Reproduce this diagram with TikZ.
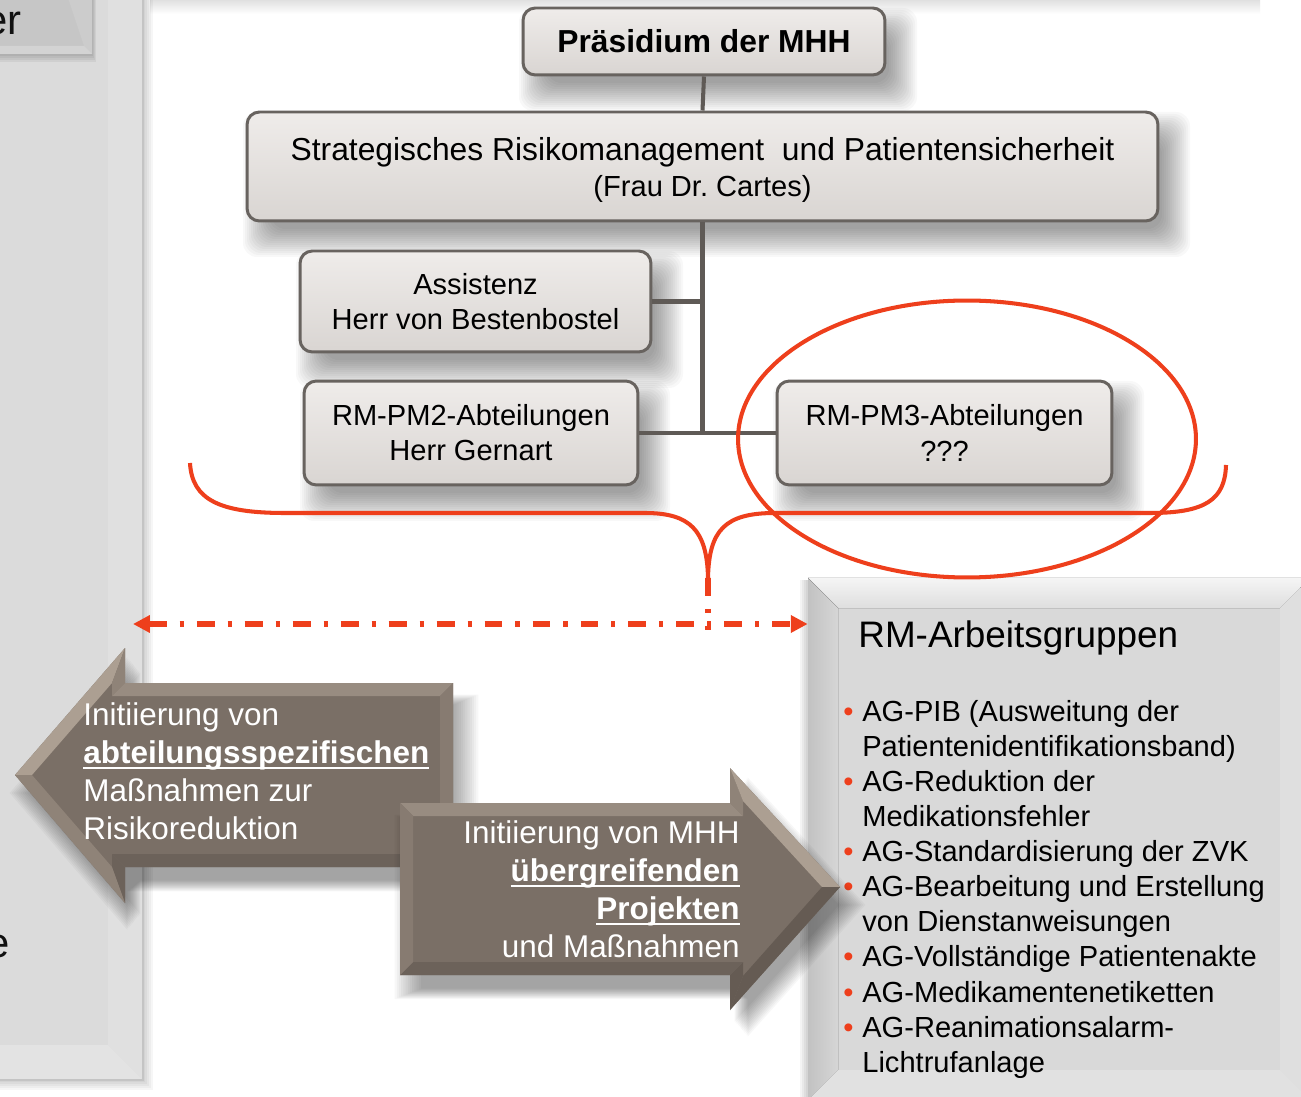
\documentclass[tikz,border=0pt]{standalone}
\usepackage{fontspec}
\setmainfont{Liberation Sans}
\usetikzlibrary{arrows.meta}

\definecolor{orgline}{HTML}{68635F}
\definecolor{orgtop}{HTML}{EFECEA}
\definecolor{orgbottom}{HTML}{D9D5D2}
\definecolor{trunk}{HTML}{5F5A56}
\definecolor{panelgray}{HTML}{DBDBDB}
\definecolor{panelright}{HTML}{E0E0E0}
\definecolor{panelbottom}{HTML}{E3E3E3}
\definecolor{paneledge}{HTML}{C4C4C4}
\definecolor{tabgray}{HTML}{C6C6C6}
\definecolor{tablight}{HTML}{CCCCCC}
\definecolor{tabedge}{HTML}{D3D3D3}
\definecolor{agfill}{HTML}{D9D9D9}
\definecolor{agtop}{HTML}{F5F5F5}
\definecolor{agtopin}{HTML}{DEDEDE}
\definecolor{agleft}{HTML}{C2C2C2}
\definecolor{agleftin}{HTML}{D6D6D6}
\definecolor{agright}{HTML}{DFDFDF}
\definecolor{agbottom}{HTML}{E1E1E1}
\definecolor{flowbrown}{HTML}{7A6F66}
\definecolor{bevhi}{HTML}{AC9F92}
\definecolor{bevtop}{HTML}{988C81}
\definecolor{bevmid}{HTML}{8F8378}
\definecolor{bevend}{HTML}{877B71}
\definecolor{bevlow}{HTML}{6C625A}
\definecolor{bevdark}{HTML}{655B53}
\definecolor{marker}{HTML}{EE3F1C}
\definecolor{sidetext}{HTML}{111111}

\newcommand{\orgfont}{\fontsize{16.55}{20}\selectfont}
\newcommand{\stratfont}{\fontsize{18.1}{20.4}\selectfont}
\newcommand{\presfont}{\fontsize{18.1}{21.7}\selectfont\bfseries}
\newcommand{\agheadfont}{\fontsize{21}{25}\selectfont}
\newcommand{\flowfont}{\fontsize{17.9}{21.7}\selectfont}
\newcommand{\sidefont}{\fontsize{23.8}{28}\selectfont}
\newcommand{\agbullet}{\makebox[10.8pt][l]{\textcolor{marker}{\textbullet}}}
\newcommand{\agindent}{\hspace*{10.8pt}}
\newcommand{\flowul}[1]{\setbox0=\hbox{\bfseries #1}\rlap{\rule[-3.4pt]{\wd0}{1.1pt}}\box0}
\newlength{\flowwidth}\setlength{\flowwidth}{7cm}
\newcommand{\rline}[1]{\hbox to \flowwidth{\hfill #1}}
% soft drop shadow for a box: corners of the shifted box, stacked translucent layers
\newcommand{\boxshade}[4]{%
  \foreach \k in {-10,-8,...,18}{%
    \fill[black, opacity=0.027, rounded corners=8pt] (#1-\k,#2-\k) rectangle (#3+\k,#4+\k);}}

\begin{document}
\frenchspacing
\begin{tikzpicture}[x=0.02cm,y=-0.02cm,
  orgbox/.style={rectangle, rounded corners=7pt, draw=orgline, line width=1.7pt,
    top color=orgtop, bottom color=orgbottom, inner sep=0pt, align=center,
    font=\orgfont, text=black},
  trunkline/.style={draw=trunk, line width=2.3pt},
  markline/.style={draw=marker, line width=2.3pt},
  flowmark/.style={draw=marker, line width=3.4pt,
    dash pattern=on 10.2pt off 7.4pt on 2.3pt off 7.4pt}
]
\useasboundingbox (0,0) rectangle (1301,1097);
\fill[white] (0,0) rectangle (1301,1097);

% faint shade along the top edge
\fill[top color=black!12, bottom color=white] (150,0) rectangle (1260,14);

% side panel on the left
\foreach \k in {1,...,5}{\fill[black, opacity=0.035] (-20,-20) rectangle (143+2*\k,1080+2*\k);}
\fill[panelgray] (-20,-20) rectangle (143,1080);
\fill[panelright] (143,-20) -- (143,1080) -- (108,1045) -- (108,-20) -- cycle;
\fill[panelbottom] (-20,1080) -- (143,1080) -- (108,1045) -- (-20,1045) -- cycle;
\draw[paneledge, line width=1pt] (143,-20) -- (143,1080) -- (-20,1080);

% tab in the upper left corner
\foreach \k in {1,...,4}{\fill[black, opacity=0.05] (-20,-20) rectangle (92+\k,54+2*\k);}
\fill[tabgray] (-20,-20) rectangle (92,54);
\fill[tablight] (62,-20) -- (92,-20) -- (92,54) -- (84,46) -- cycle;
\fill[tabedge] (-20,46) -- (84,46) -- (92,54) -- (-20,54) -- cycle;
\node[anchor=base east, inner sep=0pt, font=\sidefont, text=sidetext] (tabtext) at (22,35) {er};
\node[anchor=base east, inner sep=0pt, font=\sidefont, text=sidetext] (sidetext) at (10.5,957) {e};

% working groups box
\foreach \k in {1,...,4}{\fill[black, opacity=0.045] (808-2*\k,580) rectangle (1310,1100);}
\node[rectangle, fill=agfill, minimum width=10.04cm, minimum height=10.44cm, inner sep=0pt] (ag) at (1059,839) {};
\fill[top color=agtop, bottom color=agtopin] (808,578) -- (1310,578) -- (1280,608) -- (838,608) -- cycle;
\fill[left color=agleft, right color=agleftin] (808,578) -- (838,608) -- (838,1070) -- (808,1100) -- cycle;
\fill[agright] (1310,578) -- (1310,1100) -- (1280,1070) -- (1280,608) -- cycle;
\fill[agbottom] (808,1100) -- (838,1070) -- (1280,1070) -- (1310,1100) -- cycle;
\node[anchor=base west, inner sep=0pt, font=\agheadfont, text=black] (agtitle) at (858,647) {RM-Arbeitsgruppen};
\node[anchor=base west, inner sep=0pt, font=\orgfont, text=black] (aglist) at (843,721) {\vtop{%
  \hbox{\agbullet AG-PIB (Ausweitung der}
  \hbox{\agindent Patientenidentifikationsband)}
  \hbox{\agbullet AG-Reduktion der}
  \hbox{\agindent Medikationsfehler}
  \hbox{\agbullet AG-Standardisierung der ZVK}
  \hbox{\agbullet AG-Bearbeitung und Erstellung}
  \hbox{\agindent von Dienstanweisungen}
  \hbox{\agbullet AG-Vollständige Patientenakte}
  \hbox{\agbullet AG-Medikamentenetiketten}
  \hbox{\agbullet AG-Reanimationsalarm-}
  \hbox{\agindent Lichtrufanlage}}};

% organisation chart: shadows first, then boxes and connectors
\boxshade{537}{26}{899}{93}
\boxshade{261}{130}{1172}{239}
\boxshade{314}{269}{665}{370}
\boxshade{318}{399}{652}{503}
\boxshade{791}{399}{1126}{503}

\node[orgbox, minimum width=7.24cm, minimum height=1.34cm, font=\presfont] (pres) at (704,41.5) {Präsidium der MHH};
\node[orgbox, minimum width=18.22cm, minimum height=2.18cm, font=\stratfont] (strat) at (702.5,166.5) {\rule{0pt}{17.5pt}Strategisches Risikomanagement\ \ und Patientensicherheit\\{\orgfont (Frau Dr. Cartes)}};
\node[orgbox, minimum width=7.02cm, minimum height=2.02cm] (assist) at (475.5,301.5) {Assistenz\\Herr von Bestenbostel};
\node[orgbox, minimum width=6.68cm, minimum height=2.08cm] (pm2) at (471,433) {RM-PM2-Abteilungen\\Herr Gernart};
\node[orgbox, minimum width=6.70cm, minimum height=2.08cm] (pm3) at (944.5,433) {RM-PM3-Abteilungen\\???};

\draw[trunkline] (pres.south) -- (strat.north);
\draw[trunkline] (strat.south) -- (strat.south |- pm3.west) -- (pm3.west);
\draw[trunkline] (assist.east) -- (assist.east -| strat.south);
\draw[trunkline] (pm2.east) -- (pm2.east -| strat.south);

% left-pointing block arrow
\foreach \s in {0.95,0.96,...,1.075}{%
  \fill[black, opacity=0.03, shift={(10,18)}, scale around={\s:(234,775)}]
    (15,775) -- (125,648) -- (125,683) -- (453,683) -- (453,867) -- (125,867) -- (125,903) -- cycle;}
\fill[flowbrown] (15,775) -- (125,648) -- (125,683) -- (453,683) -- (453,867) -- (125,867) -- (125,903) -- cycle;
\fill[bevhi] (15,775) -- (125,648) -- (112,683) -- (32,775) -- cycle;
\fill[bevmid] (125,648) -- (125,683) -- (112,696) -- (112,683) -- cycle;
\fill[bevtop] (125,683) -- (453,683) -- (440,696) -- (112,696) -- cycle;
\fill[bevend] (453,683) -- (453,867) -- (440,854) -- (440,696) -- cycle;
\fill[bevlow] (453,867) -- (125,867) -- (112,854) -- (440,854) -- cycle;
\fill[bevlow] (125,867) -- (125,903) -- (112,867) -- (112,854) -- cycle;
\fill[bevmid] (125,903) -- (15,775) -- (32,775) -- (112,867) -- cycle;
\node[anchor=base west, inner sep=0pt, font=\flowfont, text=white] (lefttext) at (83,725) {\vtop{%
  \hbox{Initiierung von}
  \hbox{\flowul{abteilungsspezifischen}}
  \hbox{Maßnahmen zur}
  \hbox{Risikoreduktion}}};

% right-pointing block arrow
\foreach \s in {0.95,0.96,...,1.075}{%
  \fill[black, opacity=0.03, shift={(10,18)}, scale around={\s:(620,889)}]
    (400,803) -- (730,803) -- (730,768) -- (840,887) -- (730,1010) -- (730,975) -- (400,975) -- cycle;}
\fill[flowbrown] (400,803) -- (730,803) -- (730,768) -- (840,887) -- (730,1010) -- (730,975) -- (400,975) -- cycle;
\fill[bevtop] (400,803) -- (730,803) -- (743,816) -- (413,816) -- cycle;
\fill[bevmid] (730,803) -- (730,768) -- (743,801) -- (743,816) -- cycle;
\fill[bevhi] (730,768) -- (840,887) -- (822,887) -- (743,801) -- cycle;
\fill[bevdark] (840,887) -- (730,1010) -- (743,976) -- (822,887) -- cycle;
\fill[bevdark] (730,1010) -- (730,975) -- (743,962) -- (743,976) -- cycle;
\fill[bevlow] (730,975) -- (400,975) -- (413,962) -- (743,962) -- cycle;
\fill[bevend] (400,975) -- (400,803) -- (413,816) -- (413,962) -- cycle;
\node[anchor=base east, inner sep=0pt, font=\flowfont, text=white] (righttext) at (740,843) {\vtop{%
  \rline{Initiierung von MHH}
  \rline{\flowul{übergreifenden}}
  \rline{\flowul{Projekten}}
  \rline{und Maßnahmen}}};

% red markings
\draw[markline] (967,439) ellipse [x radius=4.58cm, y radius=2.77cm];
\coordinate (bracetip) at (708,578);
\draw[markline] (190,463) .. controls (192,500) and (220,513) .. (285,513) -- (645,513)
  .. controls (690,513) and (707,530) .. (bracetip);
\draw[markline] (bracetip) .. controls (709,530) and (725,513) .. (775,513) -- (1150,513)
  .. controls (1205,513) and (1225,500) .. (1226,465);
\coordinate (crossing) at (708,630);
\draw[flowmark] (bracetip) -- (crossing);
\coordinate (leftend) at (133,624);
\draw[flowmark, {Triangle[length=9.6pt,width=9.5pt]}-{Triangle[length=9.6pt,width=9.5pt]}] (leftend) -- (ag.west |- leftend);
\end{tikzpicture}
\end{document}
